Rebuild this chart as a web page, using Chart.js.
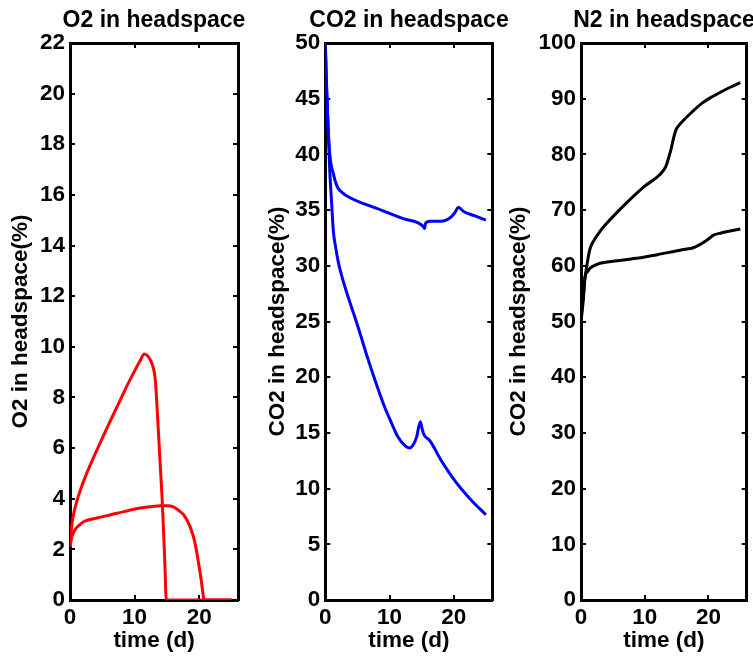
<!DOCTYPE html>
<html>
<head>
<meta charset="utf-8">
<script src="https://cdn.jsdelivr.net/npm/chart.js@4"></script>
<style>
  html, body { margin: 0; background: #fff; overflow: hidden; width: 753px; height: 656px; }
  canvas { position: absolute; top: 0; }
</style>
</head>
<body>
<canvas id="o2" width="308" height="656" style="left:0px"></canvas>
<canvas id="co2" width="308" height="656" style="left:255px"></canvas>
<canvas id="n2" width="324" height="656" style="left:502px"></canvas>
<script>
// O2 in headspace (%)
const o2TimeHigh = [0, 0.25, 0.6, 1.0, 1.55, 2.5, 3.6, 4.65, 6.2, 7.5, 8.8, 10.0, 10.85, 11.5, 12.15, 12.66, 13.2, 13.5, 13.95, 14.26, 14.47, 14.68, 14.9, 25];
const o2High     = [2.1, 2.9, 3.45, 3.85, 4.3, 4.95, 5.6, 6.2, 7.05, 7.75, 8.45, 9.05, 9.45, 9.72, 9.6, 9.35, 8.7, 7.5, 5.4, 4.0, 2.76, 1.45, 0, 0];
const o2TimeLow  = [0, 0.3, 0.8, 1.5, 2.1, 4, 6.2, 8.5, 11.4, 13, 14, 15, 16, 17, 17.6, 18.5, 19.1, 19.5, 19.9, 20.3, 20.8, 25];
const o2Low      = [2.1, 2.5, 2.78, 2.97, 3.09, 3.23, 3.36, 3.5, 3.65, 3.7, 3.72, 3.72, 3.68, 3.5, 3.36, 2.95, 2.5, 2.05, 1.45, 0.8, 0, 0];

// CO2 in headspace (%)
const co2TimeHigh = [0, 0.2, 0.45, 0.73, 1.0, 1.24, 1.6, 2.0, 2.6, 3.56, 8.7, 12, 15.3, 15.45, 15.6, 15.9, 16.2, 18.0, 18.8, 19.6, 20.2, 20.7, 21.6, 23.2, 25];
const co2High     = [50, 46, 42.3, 39.8, 38.8, 38.3, 37.5, 36.95, 36.6, 36.2, 35.0, 34.25, 33.5, 33.35, 33.8, 33.95, 34.0, 34.0, 34.1, 34.4, 34.8, 35.25, 34.85, 34.5, 34.1];
const co2TimeLow  = [0, 0.2, 0.45, 0.7, 1.0, 1.24, 1.6, 2.0, 2.7, 3.56, 5.1, 6.66, 8.0, 9.25, 10.3, 11.3, 12.4, 13.1, 13.6, 14.2, 14.8, 15.1, 15.4, 15.8, 16.2, 18.0, 20.1, 22.7, 25];
const co2Low      = [50, 46, 42.2, 38.5, 35.5, 33.2, 31.7, 30.4, 28.8, 27.2, 24.5, 21.6, 19.3, 17.3, 15.9, 14.65, 13.85, 13.65, 13.85, 14.6, 16.0, 15.3, 14.8, 14.55, 14.36, 12.57, 10.77, 8.98, 7.65];

// N2 in headspace (%)
const n2TimeHigh = [0, 0.15, 0.36, 0.6, 0.88, 1.4, 1.9, 3.0, 4.5, 6.0, 7.6, 10, 12.3, 13.3, 13.7, 14.1, 14.5, 14.9, 15.5, 15.9, 17.5, 19.0, 20.5, 22.1, 23.5, 25];
const n2High     = [50, 51.5, 53.9, 57.5, 59.8, 63.0, 64.3, 66.2, 68.2, 70.0, 71.8, 74.3, 76.3, 77.8, 79.2, 80.8, 82.8, 84.4, 85.4, 85.9, 87.7, 89.2, 90.3, 91.3, 92.1, 92.9];
const n2TimeLow  = [0, 0.15, 0.36, 0.62, 1.0, 1.4, 2.0, 3.0, 5, 8.7, 12, 15.7, 16.5, 17.5, 18.5, 19.5, 20.2, 20.8, 22, 25];
const n2Low      = [50, 52.5, 54.5, 58.0, 58.9, 59.55, 60.0, 60.45, 60.8, 61.35, 62.0, 62.85, 63.0, 63.2, 63.7, 64.4, 65.0, 65.5, 65.9, 66.6];

const timeMax = 26;

function toPoints(t, v) {
  return t.map((x, i) => ({ x: x, y: v[i] }));
}

const FONT = { family: "'Liberation Sans', Arial, sans-serif", size: 22.5, weight: 'bold' };
const TITLE_FONT = { family: "'Liberation Sans', Arial, sans-serif", size: 23, weight: 'bold' };

// canvases are transparent and overlap; the empty right axis is as wide as the
// left one, so the title (centred on the canvas) sits over the plot box
function panel(id, title, yTitle, yMax, yStep, series, color, yWidth, yTitlePad, rightWidth) {
  const onlyTens = s => { s.ticks = s.ticks.filter(t => t.value % 10 === 0); };
  const innerTicks = { drawOnChartArea: false, color: 'black', lineWidth: 2, tickLength: -5 };
  const frame = { display: true, color: 'black', width: 3 };

  new Chart(document.getElementById(id), {
    type: 'line',
    data: {
      datasets: series.map(s => ({
        data: toPoints(s[0], s[1]),
        borderColor: color,
        borderWidth: 3,
        pointRadius: 0,
        cubicInterpolationMode: 'monotone',
        fill: false,
      })),
    },
    options: {
      responsive: false,
      animation: false,
      plugins: {
        legend: { display: false },
        tooltip: { enabled: false },
        title: {
          display: true, text: title, color: 'black', font: TITLE_FONT,
          padding: { top: 7, bottom: 8.4 },
        },
      },
      scales: {
        x: {
          type: 'linear', min: 0, max: timeMax,
          afterBuildTicks: onlyTens,
          afterFit: s => { s.height = 56; },
          ticks: { stepSize: 10, color: 'black', font: FONT, padding: 9.6, maxRotation: 0 },
          grid: innerTicks, border: frame,
          title: { display: true, text: 'time (d)', color: 'black', font: FONT, padding: { top: 0, bottom: 2 } },
        },
        x2: {
          type: 'linear', position: 'top', min: 0, max: timeMax,
          afterBuildTicks: onlyTens,
          afterFit: s => { s.height = 0; },
          ticks: { display: false, stepSize: 10 },
          grid: innerTicks, border: frame,
        },
        y: {
          min: 0, max: yMax,
          afterFit: s => { s.width = yWidth; },
          ticks: { stepSize: yStep, color: 'black', font: FONT, padding: 10 },
          grid: innerTicks, border: frame,
          title: { display: true, text: yTitle, color: 'black', font: FONT, padding: { top: yTitlePad, bottom: 0 } },
        },
        y2: {
          position: 'right', min: 0, max: yMax,
          afterFit: s => { s.width = rightWidth; },
          ticks: { display: false, stepSize: yStep },
          grid: innerTicks, border: frame,
        },
      },
    },
  });
}

panel('o2', 'O2 in headspace', 'O2 in headspace(%)', 22, 2,
  [[o2TimeHigh, o2High], [o2TimeLow, o2Low]], '#ff0000', 70, 7.2, 70);
panel('co2', 'CO2 in headspace', 'CO2 in headspace(%)', 50, 5,
  [[co2TimeHigh, co2High], [co2TimeLow, co2Low]], '#0000ff', 70.3, 8.9, 70.7);
panel('n2', 'N2 in headspace', 'CO2 in headspace(%)', 100, 10,
  [[n2TimeHigh, n2High], [n2TimeLow, n2Low]], '#000000', 79, 3.6, 79.3);
</script>
</body>
</html>
